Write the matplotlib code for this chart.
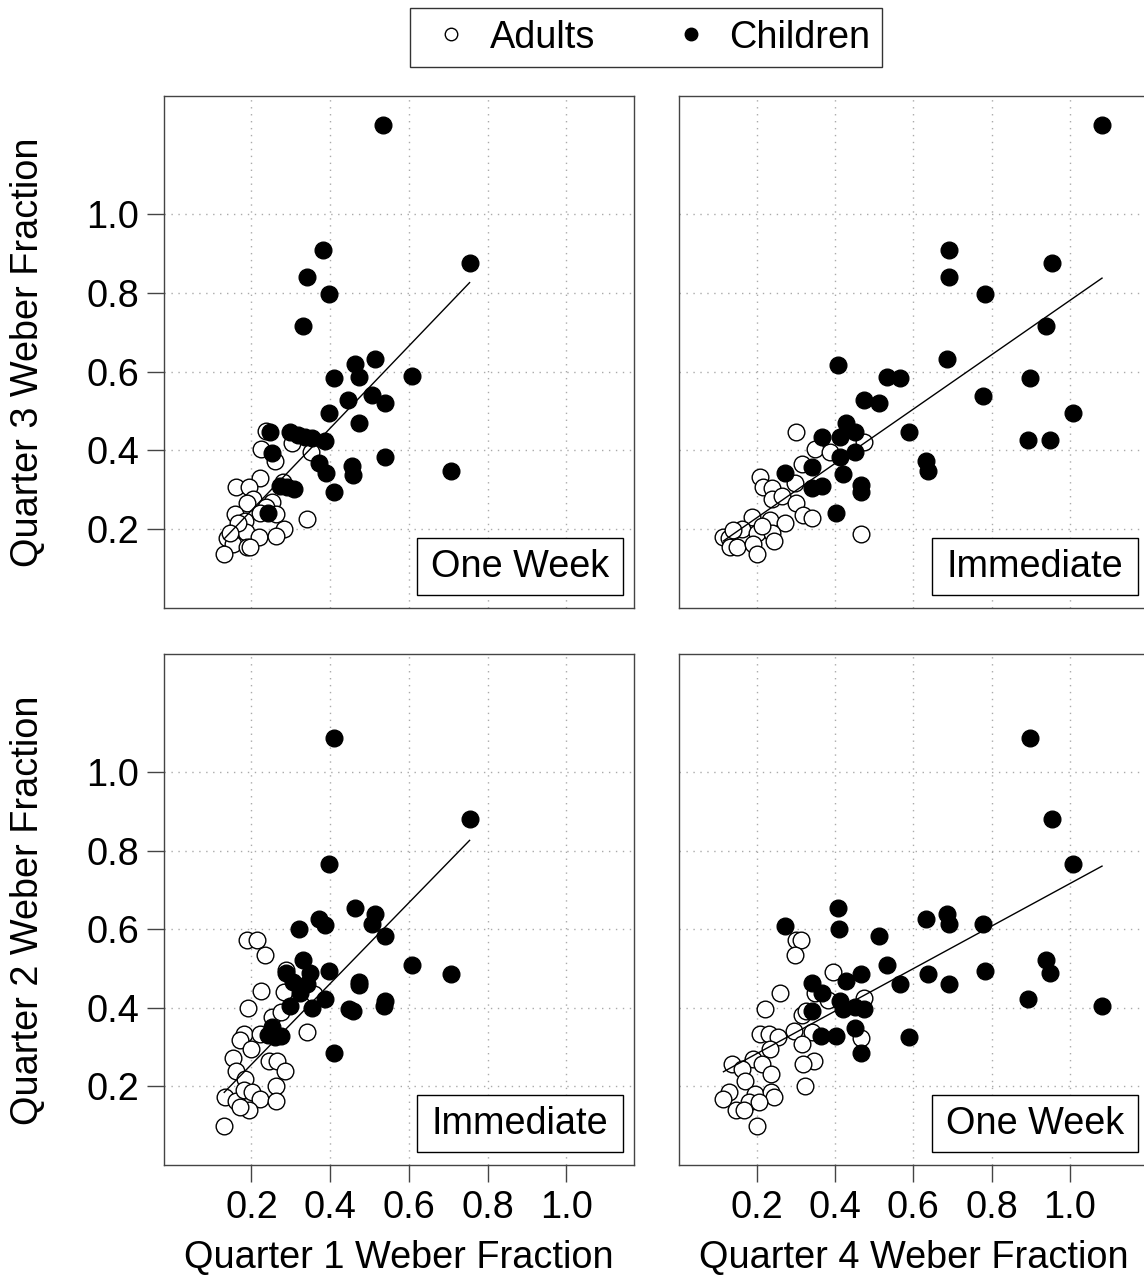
import numpy as np
import matplotlib
matplotlib.use("Agg")
import matplotlib.pyplot as plt
from matplotlib.lines import Line2D
from matplotlib.patches import Rectangle

plt.rcParams['font.family'] = ['Liberation Sans', 'DejaVu Sans']

# --- данные ---
# верх-лево: Q1 vs Q3 (One Week)
tl_adult_x = [0.236, 0.225, 0.259, 0.304, 0.352, 0.221, 0.280, 0.162, 0.194, 0.203,
              0.189, 0.251, 0.236, 0.158, 0.221, 0.262, 0.183, 0.342, 0.282, 0.164,
              0.186, 0.219, 0.262, 0.137, 0.153, 0.189, 0.197, 0.131, 0.167, 0.145]
tl_adult_y = [0.450, 0.403, 0.372, 0.420, 0.395, 0.329, 0.321, 0.307, 0.307, 0.276,
              0.266, 0.270, 0.256, 0.239, 0.241, 0.239, 0.222, 0.225, 0.200, 0.200,
              0.192, 0.181, 0.183, 0.177, 0.163, 0.154, 0.156, 0.137, 0.215, 0.190]
tl_child_x = [0.534, 0.381, 0.342, 0.396, 0.754, 0.330, 0.514, 0.464, 0.410, 0.472,
              0.609, 0.446, 0.505, 0.540, 0.396, 0.473, 0.247, 0.297, 0.319, 0.336,
              0.355, 0.388, 0.253, 0.372, 0.390, 0.456, 0.457, 0.540, 0.706, 0.272,
              0.291, 0.308, 0.409, 0.242]
tl_child_y = [1.226, 0.908, 0.841, 0.797, 0.877, 0.716, 0.631, 0.620, 0.584, 0.586,
              0.589, 0.527, 0.540, 0.520, 0.496, 0.469, 0.447, 0.448, 0.438, 0.433,
              0.431, 0.425, 0.393, 0.369, 0.342, 0.361, 0.338, 0.384, 0.348, 0.310,
              0.308, 0.302, 0.294, 0.242]

# верх-право: Q4 vs Q3 (Immediate)
tr_adult_x = [0.300, 0.349, 0.387, 0.473, 0.315, 0.209, 0.217, 0.238, 0.298, 0.238,
              0.264, 0.300, 0.319, 0.341, 0.187, 0.234, 0.272, 0.162, 0.200, 0.238,
              0.244, 0.213, 0.115, 0.128, 0.132, 0.149, 0.191, 0.200, 0.467, 0.140]
tr_adult_y = [0.446, 0.403, 0.397, 0.421, 0.366, 0.332, 0.308, 0.304, 0.317, 0.276,
              0.285, 0.266, 0.236, 0.228, 0.232, 0.224, 0.215, 0.200, 0.190, 0.190,
              0.169, 0.207, 0.181, 0.177, 0.156, 0.156, 0.163, 0.137, 0.187, 0.197]
tr_child_x = [1.082, 0.691, 0.691, 0.783, 0.955, 0.939, 0.686, 0.408, 0.534, 0.566,
              0.898, 0.474, 0.513, 0.777, 1.008, 0.427, 0.452, 0.588, 0.368, 0.412,
              0.893, 0.950, 0.412, 0.451, 0.632, 0.637, 0.342, 0.272, 0.421, 0.466,
              0.466, 0.342, 0.366, 0.402]
tr_child_y = [1.226, 0.908, 0.841, 0.796, 0.877, 0.716, 0.631, 0.617, 0.587, 0.584,
              0.583, 0.527, 0.520, 0.539, 0.495, 0.469, 0.448, 0.448, 0.435, 0.433,
              0.427, 0.427, 0.384, 0.395, 0.372, 0.348, 0.359, 0.342, 0.340, 0.313,
              0.294, 0.304, 0.310, 0.242]

# низ-лево: Q1 vs Q2 (Immediate)
bl_adult_x = [0.189, 0.214, 0.235, 0.225, 0.282, 0.289, 0.192, 0.251, 0.274, 0.342,
              0.181, 0.221, 0.170, 0.200, 0.153, 0.245, 0.264, 0.285, 0.160, 0.183,
              0.262, 0.134, 0.160, 0.181, 0.202, 0.221, 0.262, 0.194, 0.170, 0.131,
              0.358]
bl_adult_y = [0.572, 0.572, 0.533, 0.443, 0.440, 0.495, 0.399, 0.376, 0.389, 0.338,
              0.332, 0.332, 0.317, 0.296, 0.273, 0.264, 0.264, 0.239, 0.239, 0.220,
              0.200, 0.173, 0.163, 0.190, 0.186, 0.169, 0.163, 0.139, 0.147, 0.098,
              0.436]
bl_child_x = [0.410, 0.754, 0.396, 0.464, 0.514, 0.505, 0.372, 0.388, 0.320, 0.540,
              0.330, 0.348, 0.289, 0.306, 0.340, 0.396, 0.609, 0.706, 0.473, 0.473,
              0.323, 0.388, 0.297, 0.353, 0.447, 0.458, 0.540, 0.536, 0.253, 0.242,
              0.276, 0.259, 0.409]
bl_child_y = [1.086, 0.881, 0.767, 0.655, 0.639, 0.612, 0.627, 0.610, 0.601, 0.583,
              0.522, 0.488, 0.488, 0.465, 0.461, 0.493, 0.510, 0.487, 0.465, 0.457,
              0.437, 0.423, 0.404, 0.399, 0.398, 0.391, 0.416, 0.404, 0.351, 0.330,
              0.328, 0.326, 0.285]

# низ-право: Q4 vs Q2 (One Week)
br_adult_x = [0.300, 0.313, 0.298, 0.395, 0.260, 0.221, 0.349, 0.383, 0.473, 0.315,
              0.325, 0.296, 0.341, 0.209, 0.232, 0.255, 0.315, 0.467, 0.234, 0.347,
              0.319, 0.191, 0.136, 0.162, 0.214, 0.237, 0.170, 0.324, 0.128, 0.115,
              0.196, 0.236, 0.243, 0.180, 0.206, 0.147, 0.168, 0.200]
br_adult_y = [0.572, 0.572, 0.533, 0.491, 0.438, 0.398, 0.437, 0.421, 0.425, 0.381,
              0.393, 0.342, 0.338, 0.334, 0.334, 0.326, 0.309, 0.323, 0.296, 0.264,
              0.258, 0.270, 0.258, 0.245, 0.258, 0.232, 0.214, 0.200, 0.186, 0.169,
              0.181, 0.186, 0.173, 0.160, 0.160, 0.139, 0.139, 0.098]
br_child_x = [0.898, 0.955, 1.008, 0.408, 0.632, 0.686, 0.691, 0.777, 0.273, 0.410,
              0.513, 0.534, 0.637, 0.783, 0.939, 0.950, 0.466, 0.427, 0.342, 0.366,
              0.565, 0.691, 0.412, 0.421, 0.451, 0.474, 0.893, 1.082, 0.342, 0.451,
              0.364, 0.402, 0.588, 0.467]
br_child_y = [1.086, 0.881, 0.767, 0.655, 0.626, 0.639, 0.614, 0.612, 0.607, 0.601,
              0.583, 0.510, 0.487, 0.493, 0.521, 0.489, 0.485, 0.467, 0.463, 0.437,
              0.461, 0.461, 0.416, 0.398, 0.402, 0.398, 0.423, 0.404, 0.391, 0.348,
              0.328, 0.327, 0.326, 0.285]

# линии регрессии (наклон, сдвиг): TL, TR, BL, BR
fit_slope = [1.044, 0.690, 1.029, 0.541]
fit_intercept = [0.039, 0.091, 0.050, 0.175]

ticks = [0.2, 0.4, 0.6, 0.8, 1.0]
tick_labels = ["0.2", "0.4", "0.6", "0.8", "1.0"]

W, H = 1144, 1282
fig = plt.figure(figsize=(W / 100, H / 100), dpi=100)

FS = 27.3


def px_rect(left, top, right, bottom):
    return [left / W, 1 - bottom / H, (right - left) / W, (bottom - top) / H]


panels = [
    # (rect, xlim, adults, children, tag, show_x, show_y)
    (px_rect(164, 96, 634, 608), (-0.022, 1.1715),
     (tl_adult_x, tl_adult_y), (tl_child_x, tl_child_y), "One Week", False, True),
    (px_rect(679, 96, 1149, 608), (0.0015, 1.202),
     (tr_adult_x, tr_adult_y), (tr_child_x, tr_child_y), "Immediate", False, False),
    (px_rect(164, 654, 634, 1165), (-0.022, 1.1715),
     (bl_adult_x, bl_adult_y), (bl_child_x, bl_child_y), "Immediate", True, True),
    (px_rect(679, 654, 1149, 1165), (0.0015, 1.202),
     (br_adult_x, br_adult_y), (br_child_x, br_child_y), "One Week", True, False),
]

for i, (rect, xlim, adults, children, tag, show_x, show_y) in enumerate(panels):
    ax = fig.add_axes(rect)
    ax.set_xlim(*xlim)
    ax.set_ylim(0.0, 1.30)
    ax.set_xticks(ticks)
    ax.set_yticks(ticks)
    ax.grid(True, color='#aaaaaa', linestyle=(0, (1, 4)), linewidth=1)
    ax.set_axisbelow(True)
    for sp in ax.spines.values():
        sp.set_color('#444444')
        sp.set_linewidth(1)
    ax.tick_params(length=12, width=1, color='#444444', labelsize=FS, pad=6)
    if show_x:
        ax.set_xticklabels(tick_labels)
    else:
        ax.tick_params(axis='x', length=0, labelbottom=False)
    if show_y:
        ax.set_yticklabels(tick_labels)
    else:
        ax.tick_params(axis='y', length=0, labelleft=False)

    ax.plot(adults[0], adults[1], 'o', ms=12, mfc='white', mec='black', mew=1, ls='none')
    ax.plot(children[0], children[1], 'o', ms=12, mfc='black', mec='black', mew=1, ls='none')

    # линия регрессии в пределах данных по x
    xs = np.array(adults[0] + children[0])
    xl = np.array([xs.min(), xs.max()])
    ax.plot(xl, fit_slope[i] * xl + fit_intercept[i], color='black', lw=1)

    # подпись условия в рамке в правом нижнем углу
    ax.add_patch(Rectangle((0.538, 0.025), 0.438, 0.112, transform=ax.transAxes,
                           fc='white', ec='black', lw=1, zorder=5))
    ax.text(0.538 + 0.219, 0.025 + 0.056, tag, transform=ax.transAxes,
            ha='center', va='center', fontsize=FS, zorder=6)

fig.text(28 / W, 1 - 352 / H, "Quarter 3 Weber Fraction", rotation=90,
         ha='center', va='center', fontsize=FS)
fig.text(28 / W, 1 - 910 / H, "Quarter 2 Weber Fraction", rotation=90,
         ha='center', va='center', fontsize=FS)
fig.text(399 / W, 1 - 1258 / H, "Quarter 1 Weber Fraction",
         ha='center', va='center', fontsize=FS)
fig.text(914 / W, 1 - 1258 / H, "Quarter 4 Weber Fraction",
         ha='center', va='center', fontsize=FS)

handles = [
    Line2D([], [], marker='o', ls='none', ms=9, mfc='white', mec='black', mew=1),
    Line2D([], [], marker='o', ls='none', ms=9, mfc='black', mec='black', mew=1),
]
leg = fig.legend(handles, ["Adults", "Children"], loc='center',
                 bbox_to_anchor=(646 / W, 1 - 37.5 / H), ncol=2, fontsize=FS,
                 frameon=True, fancybox=False, edgecolor='black',
                 handletextpad=0.25, columnspacing=1.75, borderpad=0.3,
                 borderaxespad=0, handlelength=1.55)
leg.get_frame().set_linewidth(1)

fig.savefig("out.png", dpi=100)
